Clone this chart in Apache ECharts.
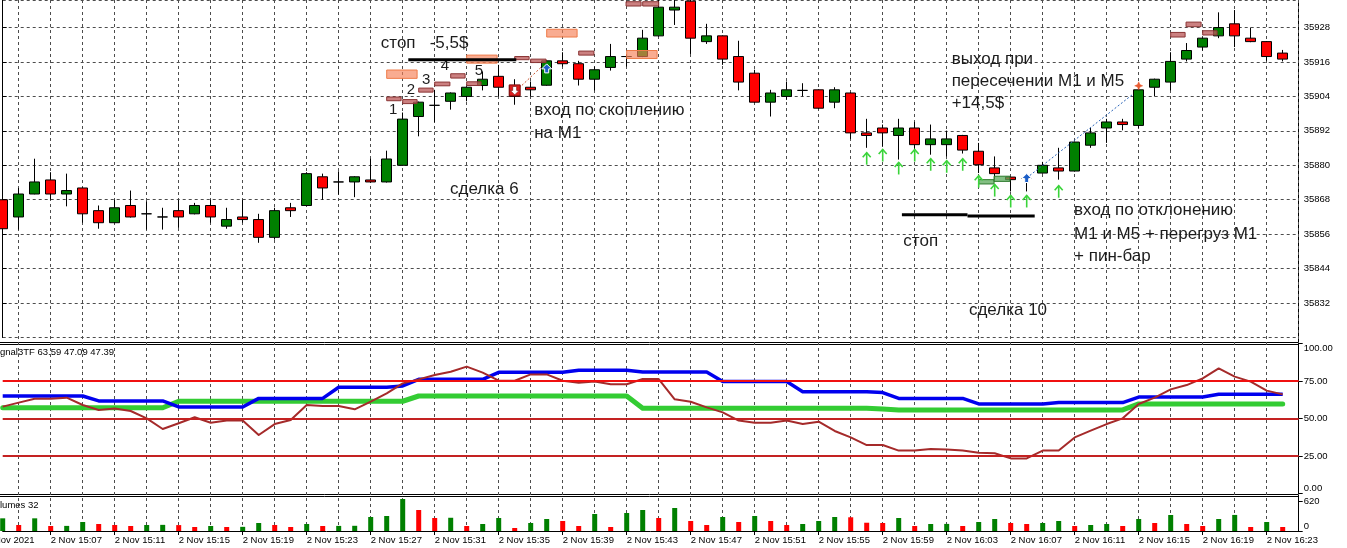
<!DOCTYPE html>
<html><head><meta charset="utf-8">
<script src="https://cdn.jsdelivr.net/npm/echarts@6.0.0/dist/echarts.min.js"></script>
<style>html,body{margin:0;padding:0;background:#fff;overflow:hidden}#chart{width:1347px;height:548px}</style>
</head><body><div id="chart"></div>
<script>
// ---------- categories (1-minute bars, 2 Nov 2021) ----------
const times = ['15:04','15:05','15:06','15:07','15:08','15:09','15:10','15:11','15:12','15:13','15:14','15:15','15:16','15:17','15:18','15:19','15:20','15:21','15:22','15:23','15:24','15:25','15:26','15:27','15:28','15:29','15:30','15:31','15:32','15:33','15:34','15:35','15:36','15:37','15:38','15:39','15:40','15:41','15:42','15:43','15:44','15:45','15:46','15:47','15:48','15:49','15:50','15:51','15:52','15:53','15:54','15:55','15:56','15:57','15:58','15:59','16:00','16:01','16:02','16:03','16:04','16:05','16:06','16:07','16:08','16:09','16:10','16:11','16:12','16:13','16:14','16:15','16:16','16:17','16:18','16:19','16:20','16:21','16:22','16:23','16:24','16:25'];
const categories = times.map(t => '2 Nov ' + t);

// ---------- price bars ----------
const opens = [35868.0,35862.0,35870.0,35874.9,35870.0,35872.1,35864.2,35860.0,35866.0,35863.1,35862.0,35864.2,35863.1,35866.0,35858.8,35862.0,35861.1,35854.9,35865.2,35866.0,35876.0,35874.2,35874.2,35874.9,35874.2,35880.0,35897.0,35900.9,35902.3,35904.0,35907.8,35911.0,35907.7,35907.2,35907.9,35916.4,35915.4,35910.0,35914.1,35917.9,35917.9,35925.1,35934.1,35937.2,35923.1,35925.1,35917.9,35912.1,35902.0,35904.0,35906.1,35906.3,35902.0,35905.2,35891.3,35893.0,35890.4,35893.0,35887.2,35887.2,35890.4,35884.9,35879.1,35875.9,35875.4,35877.3,35879.1,35878.0,35887.0,35893.0,35895.1,35893.9,35907.2,35909.0,35917.0,35921.2,35925.1,35929.3,35924.3,35923.1,35919.1];
const closes = [35857.9,35870.0,35874.2,35870.0,35871.2,35863.1,35860.0,35865.2,35862.0,35863.1,35862.0,35862.0,35866.0,35862.0,35861.1,35861.1,35854.9,35864.2,35864.2,35877.1,35872.1,35874.2,35876.0,35874.2,35882.2,35896.1,35902.0,35900.9,35905.2,35907.2,35910.0,35907.2,35904.0,35906.3,35916.4,35915.4,35910.0,35913.3,35917.9,35917.9,35924.3,35935.1,35935.1,35924.3,35925.1,35917.0,35909.0,35902.0,35905.2,35906.3,35906.1,35899.9,35906.3,35891.3,35890.4,35891.3,35893.0,35887.2,35889.2,35889.2,35885.3,35880.2,35877.1,35875.0,35875.4,35880.0,35878.0,35888.1,35891.3,35895.1,35894.2,35906.3,35910.0,35916.2,35920.0,35924.3,35928.0,35925.1,35923.1,35917.9,35917.0];
const lows = [35857.3,35857.6,35869.9,35868.0,35865.7,35860.0,35857.9,35859.8,35861.8,35857.6,35857.6,35858.2,35862.9,35860.0,35857.9,35860.0,35853.0,35854.1,35862.0,35865.8,35868.0,35869.8,35868.9,35874.0,35874.0,35879.8,35890.1,35895.0,35899.4,35902.3,35906.1,35904.0,35901.1,35904.0,35907.7,35914.4,35907.8,35906.1,35913.0,35914.4,35917.7,35924.9,35928.9,35918.8,35922.3,35915.0,35906.1,35901.8,35897.0,35902.8,35904.0,35899.7,35899.9,35889.2,35886.1,35886.6,35882.0,35884.9,35883.7,35883.1,35884.1,35877.3,35875.0,35870.9,35870.9,35877.1,35875.0,35877.8,35886.1,35887.8,35892.2,35893.0,35904.0,35906.1,35916.2,35920.0,35924.3,35921.2,35922.9,35916.4,35916.2];
const highs = [35873.3,35872.1,35882.3,35877.6,35877.1,35872.3,35866.0,35868.0,35871.2,35867.5,35865.2,35868.0,35866.9,35868.0,35865.2,35868.0,35863.1,35865.2,35866.9,35877.6,35877.1,35877.9,35876.2,35882.3,35885.1,35898.4,35902.2,35906.3,35905.4,35907.4,35912.7,35915.0,35910.0,35909.2,35916.6,35919.4,35916.4,35914.4,35922.3,35918.5,35927.2,35937.8,35938.5,35938.0,35929.3,35925.3,35923.4,35913.3,35906.3,35909.2,35908.6,35906.5,35907.2,35905.4,35896.2,35894.2,35896.2,35895.1,35894.2,35892.1,35890.6,35887.8,35883.1,35876.1,35876.5,35881.2,35886.1,35888.3,35893.0,35896.2,35896.2,35907.2,35910.2,35919.4,35922.6,35924.5,35933.3,35934.1,35928.0,35923.3,35920.2];

// ---------- tick volumes ----------
const volumes = [268,127,268,106,108,190,148,127,106,127,130,125,85,106,85,88,169,127,85,148,106,108,110,296,317,677,444,275,280,106,148,275,63,169,254,212,106,360,85,381,444,275,486,212,127,296,190,317,212,127,148,212,296,290,175,169,275,106,148,150,106,190,254,169,148,169,212,106,127,148,106,254,169,338,148,106,254,340,85,190,85];

// ---------- Signal3TF indicator ----------
const sigBlue = [65.0,65.0,65.0,65.0,65.0,65.0,61.7,61.7,61.7,61.7,61.7,57.7,57.7,57.7,57.7,57.7,63.4,63.4,63.4,63.4,63.4,70.8,70.8,70.8,70.8,71.7,76.1,76.1,76.1,76.1,76.1,80.8,80.8,80.8,80.8,80.8,82.1,82.1,82.1,82.1,81.0,81.0,81.0,81.0,81.0,74.6,74.6,74.6,74.6,74.6,67.9,67.9,67.9,67.9,67.9,67.3,63.4,63.4,63.4,63.4,63.4,59.7,59.7,59.7,59.7,59.7,60.6,60.6,60.6,60.6,60.6,64.3,64.3,64.3,64.3,64.3,66.1,66.1,66.1,66.1,66.1];
const sigGreen = [57.2,57.2,57.2,57.2,57.2,57.2,57.2,57.2,57.2,57.2,57.2,61.5,61.5,61.5,61.5,61.5,61.5,61.5,61.5,61.5,61.5,61.5,61.5,61.5,61.5,61.5,65.0,65.0,65.0,65.0,65.0,65.0,65.0,65.0,65.0,65.0,65.0,65.0,65.0,65.0,56.8,56.8,56.8,56.8,56.8,56.8,56.8,56.8,56.8,56.8,56.8,56.8,56.8,56.8,56.8,56.3,55.7,55.7,55.7,55.7,55.7,55.7,55.7,55.7,55.7,55.7,55.7,55.7,55.7,55.7,55.7,59.7,59.7,59.7,59.7,59.7,59.7,59.7,59.7,59.7,59.7];
const sigBrown = [57.9,60.6,63.2,63.2,63.9,59.0,55.7,56.6,55.0,50.1,43.0,46.8,50.8,47.2,48.6,48.6,39.0,46.3,49.0,59.0,58.3,58.3,56.1,61.2,66.8,73.4,76.1,79.0,81.2,84.6,80.6,75.2,75.2,79.4,79.4,75.2,73.9,74.6,72.8,72.8,76.3,76.3,62.8,61.2,57.4,54.1,48.6,47.2,47.2,48.6,46.3,47.9,41.7,37.4,32.3,32.3,28.6,28.6,29.7,29.4,28.6,27.2,26.8,23.4,23.4,28.6,28.6,37.4,41.9,46.3,50.1,59.7,63.9,69.4,72.3,76.8,83.4,77.9,74.6,68.6,66.1];
const sigLevels = [75, 50, 25];

// ---------- chart annotations (bar index, price) ----------
const orangeBoxes = [[24.0,25.9,35910.3,35913.2],[29.0,30.9,35915.6,35918.4],[34.0,35.9,35924.7,35927.4],[39.0,40.9,35917.2,35920.0]];
const pinkBars = [[24.0,24.9,35902.5,35903.8],[25.0,25.9,35901.5,35902.9],[26.0,26.9,35905.5,35906.9],[27.0,27.95,35907.7,35909.0],[28.0,28.9,35910.4,35911.9],[29.0,29.9,35907.8,35909.1],[32.0,32.9,35916.8,35917.9],[33.0,33.96,35915.8,35917.0],[36.0,36.95,35918.4,35919.8],[38.96,39.9,35935.5,35937.0],[40.0,41.0,35935.5,35937.0],[73.0,73.9,35924.7,35926.3],[73.96,74.9,35928.3,35929.9],[75.0,75.9,35925.4,35926.9]];
const greenBars = [[61.0,61.96,35873.5,35875.0],[61.96,62.95,35874.4,35876.2]];
const stopLines = [[25.35,32.1,35916.8],[56.2,60.3,35862.8],[60.3,64.5,35862.3]];
const upArrows = [[54,35882.3],[55,35883.4],[56,35878.9],[57,35883.4],[58,35880.2],[59,35879.5],[60,35880.2],[61,35874.3],[62,35871.2],[63,35867.4],[64,35867.4],[66,35870.8]];
const sellMarks = [[32,35906.1]];
const buyMarks = [[34,35913.6],[64,35875.4]];
const exitMarks = [[71,35907.7]];
const sellTrade = [[32.27,35906.9],[33.69,35914.4]];
const buyTrade = [[64.0,35875.6],[70.6,35904.6]];
const tradeNotes = [
  ['стоп   -5,5$', 23.63, 35922.6],
  ['вход по скоплению', 33.22, 35899.0],
  ['на М1', 33.22, 35891.0],
  ['сделка 6', 27.96, 35871.5],
  ['выход при', 59.31, 35916.8],
  ['пересечении М1 и М5', 59.31, 35909.1],
  ['+14,5$', 59.31, 35901.5],
  ['вход по отклонению', 66.96, 35864.4],
  ['М1 и М5 + перегруз М1', 66.96, 35856.1],
  ['+ пин-бар', 66.96, 35848.3],
  ['стоп', 56.29, 35853.4],
  ['сделка 10', 60.39, 35829.6]
];
const legNumbers = [['1',24.14,35899.4],['2',25.25,35906.3],['3',26.2,35909.8],['4',27.38,35914.7],['5',29.5,35912.9]];

// ---------- helpers ----------
const FONT = '"Liberation Sans", Arial, sans-serif';
const GRID_L = 2.7, GRID_W = 1296;
const dashed = { show: true, lineStyle: { color: '#4d4d4d', width: 1, type: [3, 3] } };
const oddIdx = (i) => i % 2 === 1;
const labelIdx = (i) => i % 4 === 3;

function boxRenderer(fill, stroke) {
  return function (params, api) {
    const a = api.coord([api.value(0), api.value(3)]);
    const b = api.coord([api.value(1), api.value(2)]);
    return { type: 'rect', shape: { x: a[0], y: a[1], width: b[0] - a[0], height: b[1] - a[1] },
      style: { fill: fill, stroke: stroke, lineWidth: 1 } };
  };
}
function textRenderer(list, size) {
  return function (params, api) {
    const n = list[params.dataIndex];
    const p = api.coord([n[1], n[2]]);
    return { type: 'text', x: p[0], y: p[1],
      style: { text: n[0], font: size + 'px ' + FONT, fill: '#1c1c1c', textAlign: 'left', textVerticalAlign: 'middle' } };
  };
}
const overlayBase = { type: 'custom', xAxisIndex: 3, yAxisIndex: 0, silent: true, clip: false };

const option = {
  animation: false,
  backgroundColor: '#ffffff',
  textStyle: { fontFamily: FONT },
  grid: [
    { left: GRID_L, width: GRID_W, top: 0, height: 337.5 },
    { left: GRID_L, width: GRID_W, top: 343.5, height: 150 },
    { left: GRID_L, width: GRID_W, top: 497, height: 34 },
    { left: GRID_L, width: GRID_W, top: 0, height: 531 }
  ],
  xAxis: [
    { type: 'category', gridIndex: 0, data: categories, boundaryGap: false, axisLine: { show: false }, axisTick: { show: false }, axisLabel: { show: false }, splitLine: { show: false } },
    { type: 'category', gridIndex: 1, data: categories, boundaryGap: false, axisLine: { show: false }, axisTick: { show: false }, axisLabel: { show: false }, splitLine: { show: false } },
    { type: 'category', gridIndex: 2, data: categories, boundaryGap: false,
      axisLine: { show: true, lineStyle: { color: '#000', width: 1 } },
      axisTick: { show: true, interval: labelIdx, length: 4, lineStyle: { color: '#000' } },
      axisLabel: { show: true, interval: labelIdx, align: 'left', margin: 4, color: '#000', fontSize: 9.5, fontFamily: FONT },
      splitLine: { show: false } },
    { type: 'value', gridIndex: 0, min: 0, max: 81, show: false },
    { type: 'category', gridIndex: 3, data: categories, boundaryGap: false, axisLine: { show: false }, axisTick: { show: false }, axisLabel: { show: false },
      splitLine: Object.assign({ interval: oddIdx }, dashed) }
  ],
  yAxis: [
    { type: 'value', gridIndex: 0, position: 'right', min: 35820, max: 35937.6, interval: 12,
      axisLine: { show: true, lineStyle: { color: '#000' } },
      axisTick: { show: true, length: 4, lineStyle: { color: '#000' } },
      axisLabel: { color: '#000', fontSize: 9.5, margin: 5, fontFamily: FONT, showMinLabel: false, showMaxLabel: false, formatter: v => v.toFixed(0) },
      splitLine: dashed },
    { type: 'value', gridIndex: 1, position: 'right', min: 0, max: 100, interval: 25,
      axisLine: { show: true, lineStyle: { color: '#000' } },
      axisTick: { show: true, length: 4, lineStyle: { color: '#000' } },
      axisLabel: { color: '#000', fontSize: 9.5, margin: 5, fontFamily: FONT, formatter: v => v.toFixed(2), verticalAlignMaxLabel: 'top', verticalAlignMinLabel: 'bottom' },
      splitLine: { show: false } },
    { type: 'value', gridIndex: 2, position: 'right', min: 0, max: 719, interval: 620,
      axisLine: { show: true, lineStyle: { color: '#000' } },
      axisTick: { show: true, length: 4, lineStyle: { color: '#000' } },
      axisLabel: { color: '#000', fontSize: 9.5, margin: 5, fontFamily: FONT, showMaxLabel: false, verticalAlignMinLabel: 'bottom', formatter: v => v.toFixed(0) },
      splitLine: { show: false } },
    { type: 'value', gridIndex: 3, min: 0, max: 1, show: false }
  ],
  series: [
    // annotation texts (behind candles)
    Object.assign({}, overlayBase, { z: 1, renderItem: textRenderer(tradeNotes, 17), data: tradeNotes.map(n => [n[1], n[2]]) }),
    Object.assign({}, overlayBase, { z: 1, renderItem: textRenderer(legNumbers, 15), data: legNumbers.map(n => [n[1], n[2]]) }),
    {
      type: 'candlestick', xAxisIndex: 0, yAxisIndex: 0, barWidth: 10, clip: false, z: 2,
      data: opens.map((o, i) => [o, closes[i], lows[i], highs[i]]),
      itemStyle: { color: '#008000', color0: '#ff0000', borderColor: '#000', borderColor0: '#000', borderWidth: 1 }
    },
    Object.assign({}, overlayBase, { z: 5, renderItem: boxRenderer('rgba(246,128,86,0.65)', '#ee7a48'), data: orangeBoxes }),
    Object.assign({}, overlayBase, { z: 5, renderItem: boxRenderer('rgba(188,92,92,0.78)', '#8a3434'), data: pinkBars }),
    Object.assign({}, overlayBase, { z: 5, renderItem: boxRenderer('rgba(90,170,90,0.75)', '#2d7a2d'), data: greenBars }),
    Object.assign({}, overlayBase, { z: 5, data: stopLines, renderItem: (params, api) => {
      const a = api.coord([api.value(0), api.value(2)]);
      const b = api.coord([api.value(1), api.value(2)]);
      return { type: 'line', shape: { x1: a[0], y1: a[1], x2: b[0], y2: b[1] }, style: { stroke: '#000', lineWidth: 3 } };
    } }),
    Object.assign({}, overlayBase, { z: 5, data: upArrows, renderItem: (params, api) => {
      const p = api.coord([api.value(0), api.value(1)]);
      const st = { stroke: '#3ad43a', lineWidth: 1.6, fill: null };
      return { type: 'group', children: [
        { type: 'polyline', shape: { points: [[p[0] - 4, p[1] - 1.5], [p[0], p[1] - 6], [p[0] + 4, p[1] - 1.5]] }, style: st },
        { type: 'line', shape: { x1: p[0], y1: p[1] - 6, x2: p[0], y2: p[1] + 6 }, style: st }
      ] };
    } }),
    { type: 'line', xAxisIndex: 3, yAxisIndex: 0, data: sellTrade, symbol: 'none', silent: true, z: 5,
      lineStyle: { color: '#c8502a', width: 1, type: [2, 2] } },
    { type: 'line', xAxisIndex: 3, yAxisIndex: 0, data: buyTrade, symbol: 'none', silent: true, z: 5,
      lineStyle: { color: '#2a64b8', width: 1, type: [2, 2] } },
    Object.assign({}, overlayBase, { z: 6, data: sellMarks, renderItem: (params, api) => {
      const p = api.coord([api.value(0), api.value(1)]); const x = p[0], y = p[1];
      return { type: 'group', children: [
        { type: 'rect', shape: { x: x - 5.5, y: y - 5.5, width: 11, height: 11 }, style: { fill: '#e01c1c', stroke: '#7a1010', lineWidth: 1 } },
        { type: 'polygon', shape: { points: [[x - 2, y - 4], [x + 2, y - 4], [x + 2, y], [x + 4.5, y], [x, y + 4.5], [x - 4.5, y], [x - 2, y]] }, style: { fill: '#fff', stroke: '#901818', lineWidth: 0.8 } }
      ] };
    } }),
    Object.assign({}, overlayBase, { z: 6, data: buyMarks, renderItem: (params, api) => {
      const p = api.coord([api.value(0), api.value(1)]); const x = p[0], y = p[1];
      return { type: 'polygon', shape: { points: [[x, y - 5], [x + 5, y], [x + 2, y], [x + 2, y + 4], [x - 2, y + 4], [x - 2, y], [x - 5, y]] }, style: { fill: '#1c5fc8', stroke: '#ffffff', lineWidth: 1 } };
    } }),
    Object.assign({}, overlayBase, { z: 6, data: exitMarks, renderItem: (params, api) => {
      const p = api.coord([api.value(0), api.value(1)]); const x = p[0], y = p[1];
      return { type: 'polygon', shape: { points: [[x, y - 4], [x + 1.2, y - 1.2], [x + 4, y], [x + 1.2, y + 1.2], [x, y + 4], [x - 1.2, y + 1.2], [x - 4, y], [x - 1.2, y - 1.2]] }, style: { fill: '#e85a30', stroke: '#e85a30', lineWidth: 0.5 } };
    } }),
    // indicator panel
    { type: 'line', xAxisIndex: 1, yAxisIndex: 1, data: sigGreen, symbol: 'none', silent: true, z: 2,
      lineStyle: { color: '#33cc33', width: 5, cap: 'round', join: 'round' },
      markLine: { silent: true, symbol: 'none', label: { show: false }, animation: false,
        data: sigLevels.map((v, k) => ({ yAxis: v, lineStyle: { color: k === 0 ? '#f01010' : '#c42222', width: 2, type: 'solid' } })) } },
    { type: 'line', xAxisIndex: 1, yAxisIndex: 1, data: sigBlue, symbol: 'none', silent: true, z: 3,
      lineStyle: { color: '#0000ee', width: 3.5, join: 'round' } },
    { type: 'line', xAxisIndex: 1, yAxisIndex: 1, data: sigBrown, symbol: 'none', silent: true, z: 4,
      lineStyle: { color: '#a52a2a', width: 2, join: 'round' } },
    // volumes
    { type: 'bar', xAxisIndex: 2, yAxisIndex: 2, data: volumes, barWidth: 5, silent: true,
      itemStyle: { color: (p) => (p.dataIndex === 0 || volumes[p.dataIndex] > volumes[p.dataIndex - 1]) ? '#008000' : '#ff0000' } }
  ],
  graphic: [
    { type: 'line', silent: true, shape: { x1: 0, y1: 342.5, x2: 1298.7, y2: 342.5 }, style: { stroke: '#000', lineWidth: 1 } },
    { type: 'line', silent: true, shape: { x1: 0, y1: 344.5, x2: 1298.7, y2: 344.5 }, style: { stroke: '#000', lineWidth: 1 } },
    { type: 'line', silent: true, shape: { x1: 0, y1: 494.5, x2: 1298.7, y2: 494.5 }, style: { stroke: '#000', lineWidth: 1 } },
    { type: 'line', silent: true, shape: { x1: 0, y1: 496.5, x2: 1298.7, y2: 496.5 }, style: { stroke: '#000', lineWidth: 1 } },
    { type: 'line', silent: true, shape: { x1: 1298.5, y1: 0, x2: 1298.5, y2: 531 }, style: { stroke: '#000', lineWidth: 1 } },
    { type: 'text', silent: true, x: 0, y: 352.7, style: { text: 'gnal3TF 63.59 47.09 47.39', font: '9.5px ' + FONT, fill: '#000', textVerticalAlign: 'middle' } },
    { type: 'text', silent: true, x: 0, y: 505, style: { text: 'lumes 32', font: '9.5px ' + FONT, fill: '#000', textVerticalAlign: 'middle' } },
    { type: 'text', silent: true, x: -14, y: 540.7, style: { text: '2 Nov 2021', font: '9.5px ' + FONT, fill: '#000', textVerticalAlign: 'middle' } }
  ]
};

const chart = echarts.init(document.getElementById('chart'), null, { renderer: 'canvas' });
chart.setOption(option);
</script>
</body></html>
